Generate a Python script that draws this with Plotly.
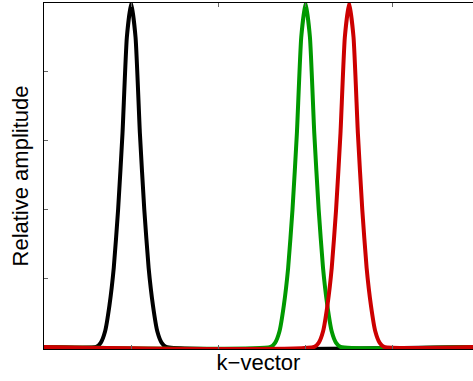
import plotly.graph_objects as go

# k-vector positions and relative amplitudes
black_k = [0.0, 0.6, 0.65, 0.7, 0.75, 0.8, 0.85, 0.9, 0.95, 1.0,
           1.05, 1.1, 1.15, 1.2, 1.25, 1.3, 1.35, 1.4, 5.0]
black_amp = [0, 0, 0.012, 0.045, 0.12, 0.23, 0.40, 0.62, 0.90, 1.0,
             0.90, 0.62, 0.40, 0.23, 0.12, 0.045, 0.012, 0, 0]

green_k = [0.0, 2.6, 2.65, 2.7, 2.75, 2.8, 2.85, 2.9, 2.95, 3.0,
           3.05, 3.1, 3.15, 3.2, 3.25, 3.3, 3.35, 3.4, 5.0]
green_amp = [0, 0, 0.012, 0.045, 0.12, 0.23, 0.40, 0.62, 0.90, 1.0,
             0.90, 0.62, 0.40, 0.23, 0.12, 0.045, 0.012, 0, 0]

red_k = [0.0, 3.1, 3.15, 3.2, 3.25, 3.3, 3.35, 3.4, 3.45, 3.5,
         3.55, 3.6, 3.65, 3.7, 3.75, 3.8, 3.85, 3.9, 5.0]
red_amp = [0, 0, 0.012, 0.045, 0.12, 0.23, 0.40, 0.62, 0.90, 1.0,
           0.90, 0.62, 0.40, 0.23, 0.12, 0.045, 0.012, 0, 0]

x_ticks = [1, 2, 3, 4]
y_ticks = [0.2, 0.4, 0.6, 0.8]

fig = go.Figure()
for k, a, c in [(black_k, black_amp, "#000000"),
                (green_k, green_amp, "#009900"),
                (red_k, red_amp, "#cc0000")]:
    fig.add_trace(go.Scatter(x=k, y=a, mode="lines",
                             line=dict(color=c, width=4, shape="spline", smoothing=0.5),
                             showlegend=False, hoverinfo="skip"))

fig.update_layout(
    width=473, height=381,
    margin=dict(l=44, r=0, t=3, b=32),
    paper_bgcolor="white", plot_bgcolor="white",
    font=dict(family="Liberation Sans, Arial, sans-serif", color="black"),
)
fig.update_xaxes(
    range=[0, 4.92], tickvals=x_ticks, showticklabels=False,
    ticks="inside", ticklen=4, tickcolor="#666666",
    showline=True, linecolor="black", linewidth=1, mirror="ticks",
    showgrid=False, zeroline=False,
    title=dict(text="k\u2212vector", font=dict(size=22), standoff=5),
)
fig.update_yaxes(
    range=[-0.006, 1.0], tickvals=y_ticks, showticklabels=False,
    ticks="inside", ticklen=4, tickcolor="#666666",
    showline=True, linecolor="black", linewidth=1,
    showgrid=False, zeroline=False,
    title=dict(text="Relative amplitude", font=dict(size=22), standoff=8),
)

fig.write_html("out.html")
